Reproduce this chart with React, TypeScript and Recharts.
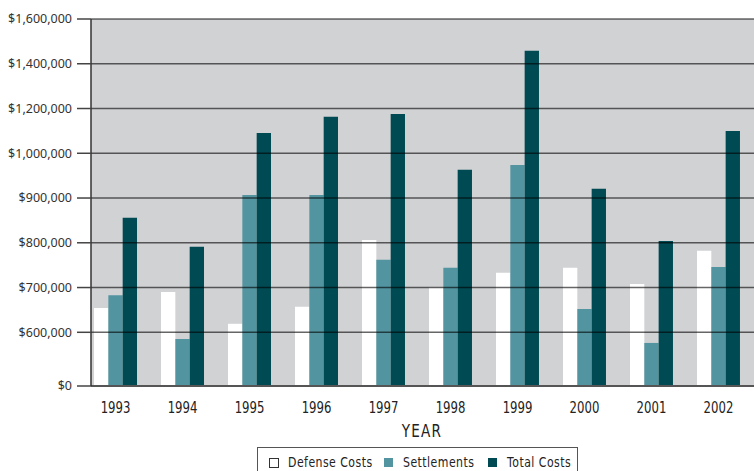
import {
  BarChart, Bar, XAxis, YAxis, CartesianGrid, ReferenceLine,
} from "recharts";

const YEARS = [1993, 1994, 1995, 1996, 1997, 1998, 1999, 2000, 2001, 2002];
const DEFENSE = [654000, 690000, 619000, 657000, 806000, 700000, 733000, 744000, 708000, 782000];
const SETTLEMENTS = [683000, 525000, 907000, 907000, 762000, 744000, 974000, 652000, 481000, 746000];
const TOTAL = [856000, 791000, 1091000, 1163000, 1176000, 963000, 1458000, 921000, 804000, 1100000];

// the printed axis is not linear: each label sits on an evenly spaced gridline
const TICK_VALUES = [0, 600000, 700000, 800000, 900000, 1000000, 1200000, 1400000, 1600000];
const TICK_POS = [0, 1.2, 2.2, 3.2, 4.2, 5.2, 6.2, 7.2, 8.2];

const C_DEF = "#ffffff";
const C_SET = "#5295a0";
const C_TOT = "#004b53";
// no condensed face installed, so DejaVu Sans gets squeezed horizontally
const FONT = "'DejaVu Sans', sans-serif";

// dollars -> position on the piecewise axis
const toPos = (v: number) => {
  for (let i = 1; i < TICK_VALUES.length; i++) {
    if (v <= TICK_VALUES[i]) {
      const f = (v - TICK_VALUES[i - 1]) / (TICK_VALUES[i] - TICK_VALUES[i - 1]);
      return TICK_POS[i - 1] + f * (TICK_POS[i] - TICK_POS[i - 1]);
    }
  }
  return TICK_POS[TICK_POS.length - 1];
};

const fmtTick = (p: number) => {
  const i = TICK_POS.findIndex((t) => Math.abs(t - p) < 1e-6);
  return i < 0 ? "" : "$" + TICK_VALUES[i].toLocaleString("en-US");
};

const data = YEARS.map((y, i) => ({
  year: y,
  defense: toPos(DEFENSE[i]),
  settlements: toPos(SETTLEMENTS[i]),
  total: toPos(TOTAL[i]),
}));

const YearTick = ({ x, y, payload }: any) => (
  <g transform={`translate(${x},${y})`}>
    <text transform="scale(0.78,1)" textAnchor="middle" dy="0.72em" fontFamily={FONT} fontSize={15} fill="#222">
      {payload.value}
    </text>
  </g>
);

const LEGEND = [
  { label: "Defense Costs", color: C_DEF, left: 11 },
  { label: "Settlements", color: C_SET, left: 126 },
  { label: "Total Costs", color: C_TOT, left: 230 },
];

function LegendBox() {
  return (
    <div
      style={{
        position: "absolute", left: 257, top: 447, width: 321, height: 30,
        border: "1px solid #555", boxSizing: "border-box", background: "#fff",
        fontFamily: FONT, fontSize: 14, color: "#222",
      }}
    >
      {LEGEND.map((l, i) => (
        <div key={l.label}>
          <span
            style={{
              position: "absolute", left: l.left, top: 10, width: i === 0 ? 8 : 9, height: i === 0 ? 8 : 9,
              background: l.color, border: i === 0 ? "1px solid #333" : "none",
            }}
          />
          <span
            style={{
              position: "absolute", left: l.left + 19, top: 6, lineHeight: "16px",
              whiteSpace: "nowrap", letterSpacing: 0.6,
              transform: "scaleX(0.78)", transformOrigin: "0 0",
            }}
          >
            {l.label}
          </span>
        </div>
      ))}
    </div>
  );
}

export default function App() {
  return (
    <div
      style={{
        position: "absolute", left: 0, top: 0, width: 754, height: 471,
        overflow: "hidden", background: "#fff",
      }}
    >
      <BarChart
        width={770}
        height={471}
        data={data}
        margin={{ top: 19, right: 0, bottom: 0, left: 0 }}
        barGap={0}
        barSize={14.33}
      >
        <CartesianGrid fill="#d1d2d4" horizontal={false} vertical={false} />
        <XAxis
          dataKey="year"
          type="number"
          domain={[1992.634, 2002.769]}
          ticks={YEARS}
          interval={0}
          allowDataOverflow
          height={85}
          tickSize={0}
          tickMargin={16}
          axisLine={{ stroke: "#555", strokeWidth: 2 }}
          tick={<YearTick />}
          label={{
            content: ({ viewBox }: any) => (
              <g transform={`translate(${viewBox.x + 331},${viewBox.y + 51})`}>
                <text
                  transform="scale(0.8,1)"
                  textAnchor="middle"
                  fontFamily={FONT}
                  fontSize={17}
                  letterSpacing={1.5}
                  fill="#222"
                >
                  YEAR
                </text>
              </g>
            ),
          }}
        />
        <YAxis
          type="number"
          domain={[0, 8.2]}
          ticks={TICK_POS}
          interval={0}
          width={91}
          tickSize={14}
          tickMargin={5}
          tickFormatter={fmtTick}
          axisLine={{ stroke: "#333", strokeWidth: 1.5 }}
          tickLine={{ stroke: "#444", strokeWidth: 1.5 }}
          tick={{ fontSize: 12.5, fill: "#333", fontFamily: "'Noto Sans', sans-serif" }}
        />
        <Bar dataKey="defense" fill={C_DEF} isAnimationActive={false} />
        <Bar dataKey="settlements" fill={C_SET} isAnimationActive={false} />
        <Bar dataKey="total" fill={C_TOT} isAnimationActive={false} />
        {TICK_POS.slice(1).map((p) => (
          <ReferenceLine key={p} y={p} stroke="rgba(0,0,0,0.6)" strokeWidth={1.5} />
        ))}
      </BarChart>
      <LegendBox />
    </div>
  );
}
